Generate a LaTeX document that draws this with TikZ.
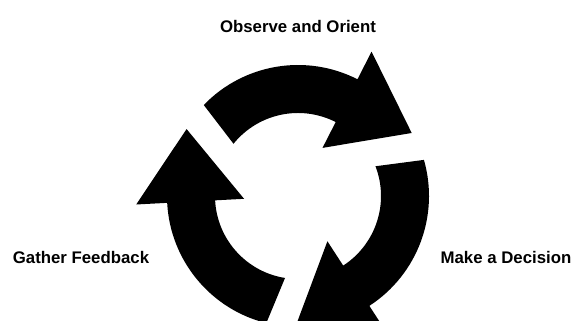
\documentclass[tikz,border=0pt]{standalone}
\usepackage{fontspec}
\setmainfont{Liberation Sans}
\usetikzlibrary{calc}
\tikzset{
  lbl/.style={font=\fontsize{16.8}{20}\selectfont\bfseries, inner sep=0pt, anchor=center},
  cyc/.style={fill=black},
}
\begin{document}
\begin{tikzpicture}[x=1pt,y=1pt]
  \useasboundingbox (0,0) rectangle (573,321);
  \clip (0,0) rectangle (573,321);
  \coordinate (c) at (298,125);
  % three arrows, 120 deg apart
  \foreach \r in {0,120,240}{
    \fill[cyc, shift={(c)}, rotate=\r]
      (141:83) -- (136:131) arc[start angle=136, end angle=63, radius=131]
      -- (63:162) -- (29:130) -- (63:54) -- (63:83)
      arc[start angle=63, end angle=141, radius=83] -- cycle;
  }
  % labels
  \node[lbl] (obs) at (298,295) {Observe and Orient};
  \node[lbl] (gat) at (81,64)   {Gather Feedback};
  \node[lbl] (dec) at (506,64)  {Make a Decision};
\end{tikzpicture}
\end{document}
